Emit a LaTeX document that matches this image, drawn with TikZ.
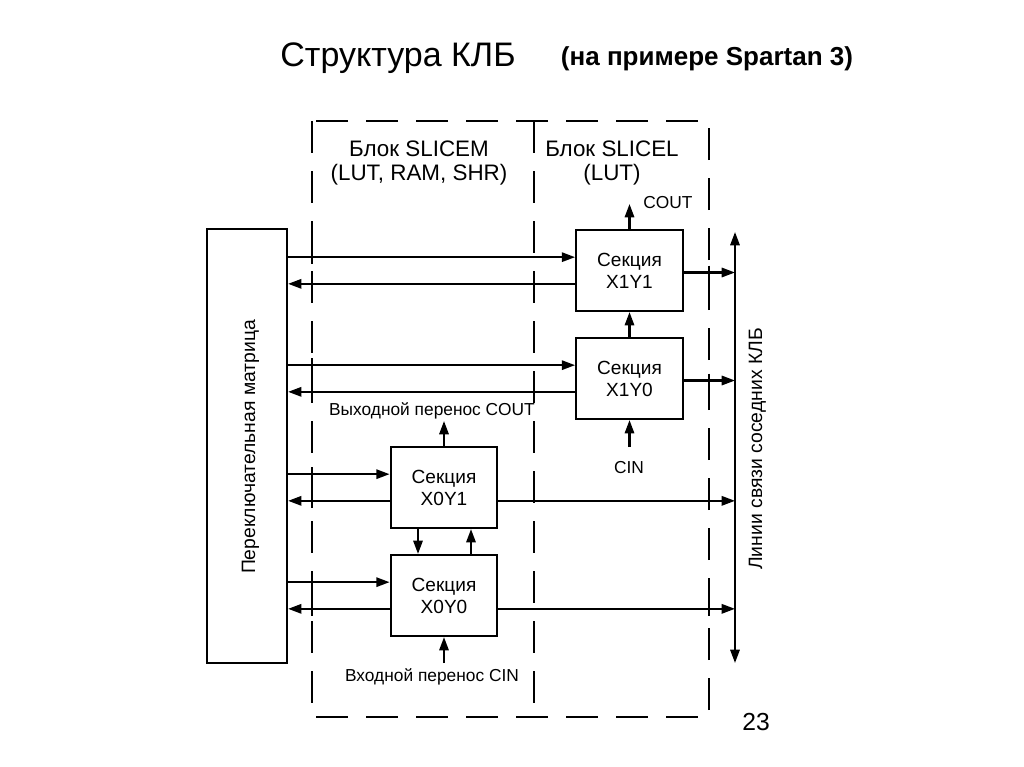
\documentclass[tikz,border=0pt]{standalone}
\usepackage{fontspec}
\setmainfont{Liberation Sans}
\usetikzlibrary{arrows.meta,calc}
\begin{document}
\begin{tikzpicture}[x=0.75pt,y=-0.75pt, line width=1.6pt,
  >={Triangle[length=10pt,width=7pt]},
  sect/.style={draw, rectangle, minimum width=80pt, minimum height=60.75pt, inner sep=0pt, align=center, font=\fontsize{14.3}{16.5}\selectfont},
  frame/.style={dash pattern=on 24pt off 13.5pt, line width=1.6pt},
  lbl/.style={font=\fontsize{13}{15}\selectfont, inner sep=0pt},
  blk/.style={align=center, font=\fontsize{16.8}{18}\selectfont, inner sep=0pt},
  vlbl/.style={rotate=90, anchor=base, inner sep=0pt, font=\fontsize{14.5}{17}\selectfont},
]
\useasboundingbox (0,0) rectangle (1024,767);
% titles
\node[anchor=base, inner sep=0pt, font=\fontsize{25.5}{30}\selectfont] (title) at (398,66.7) {Структура КЛБ};
\node[anchor=base, inner sep=0pt, font=\fontsize{19.5}{24}\selectfont\bfseries] (sub) at (707,65) {(на примере Spartan 3)};
% frame
\coordinate (fl) at (312,121);
\coordinate (fr) at (709,717);
\draw[frame] (fl) rectangle (fr);
\draw[frame] (534,121) -- (534,717);
\node[blk] (bm) at (419,163) {Блок SLICEM\\(LUT, RAM, SHR)};
\node[blk] (bl) at (612,163) {Блок SLICEL\\(LUT)};
% switch matrix
\node[draw, minimum width=60pt, minimum height=325.5pt, inner sep=0pt] (mat) at (247,446) {};
\node[vlbl] (matl) at (255,447) {Переключательная матрица};
% sections
\node[sect] (s11) at (629.5,270.5) {Секция\\X1Y1};
\node[sect] (s10) at (629.5,378.5) {Секция\\X1Y0};
\node[sect] (s01) at (444,487.5) {Секция\\X0Y1};
\node[sect] (s00) at (444,595.5) {Секция\\X0Y0};
% bus
\coordinate (busT) at (735,232);
\coordinate (busB) at (735,663);
\draw[<->] (busT) -- (busB);
\node[vlbl] (busl) at (762,449) {Линии связи соседних КЛБ};
% left connections
\foreach \s in {s11,s10,s01,s00}{
  \coordinate (\s i) at ([yshift=10pt]\s.west);
  \coordinate (\s q) at ([yshift=-10pt]\s.west);
  \draw[->] (\s i -| mat.east) -- (\s i);
  \draw[->] (\s q) -- (\s q -| mat.east);
  \draw ($(\s i -| fl)+(0,-7)$) -- ($(\s i -| fl)+(0,7)$);
  \draw ($(\s q -| fl)+(0,-7)$) -- ($(\s q -| fl)+(0,7)$);
}
% right connections
\coordinate (s11o) at ([yshift=-1.5pt]s11.east);
\coordinate (s10o) at ([yshift=-1.5pt]s10.east);
\coordinate (s01o) at ([yshift=-10pt]s01.east);
\coordinate (s00o) at ([yshift=-10pt]s00.east);
\foreach \o in {s11o,s10o,s01o,s00o}{
  \draw[->] (\o) -- (\o -| busT);
  \draw ($(\o -| fr)+(0,-7)$) -- ($(\o -| fr)+(0,7)$);
}
% carry chain X1
\coordinate (c1) at (629.5,204);
\draw[->] (s11.north) -- (c1);
\node[lbl] (c1l) at (668,203) {COUT};
\draw[->] (s10.north) -- (s11.south);
\coordinate (ci1) at (629.5,447);
\draw[->] (ci1) -- (s10.south);
\node[lbl] (ci1l) at (629,468) {CIN};
% carry chain X0
\coordinate (c0) at (444,421);
\draw[->] (s01.north) -- (c0);
\node[lbl, anchor=base] (c0l) at (432,415) {Выходной перенос COUT};
\coordinate (ci0) at (444,663);
\draw[->] (ci0) -- (s00.south);
\node[lbl, anchor=base] (ci0l) at (432,681) {Входной перенос CIN};
\draw[->] ([xshift=-19.5pt]s01.south) -- ([xshift=-19.5pt]s00.north);
\draw[->] ([xshift=20.25pt]s00.north) -- ([xshift=20.25pt]s01.south);
% page number
\node[inner sep=0pt, font=\fontsize{18.5}{22}\selectfont] (pg) at (756,722) {23};
\end{tikzpicture}
\end{document}
